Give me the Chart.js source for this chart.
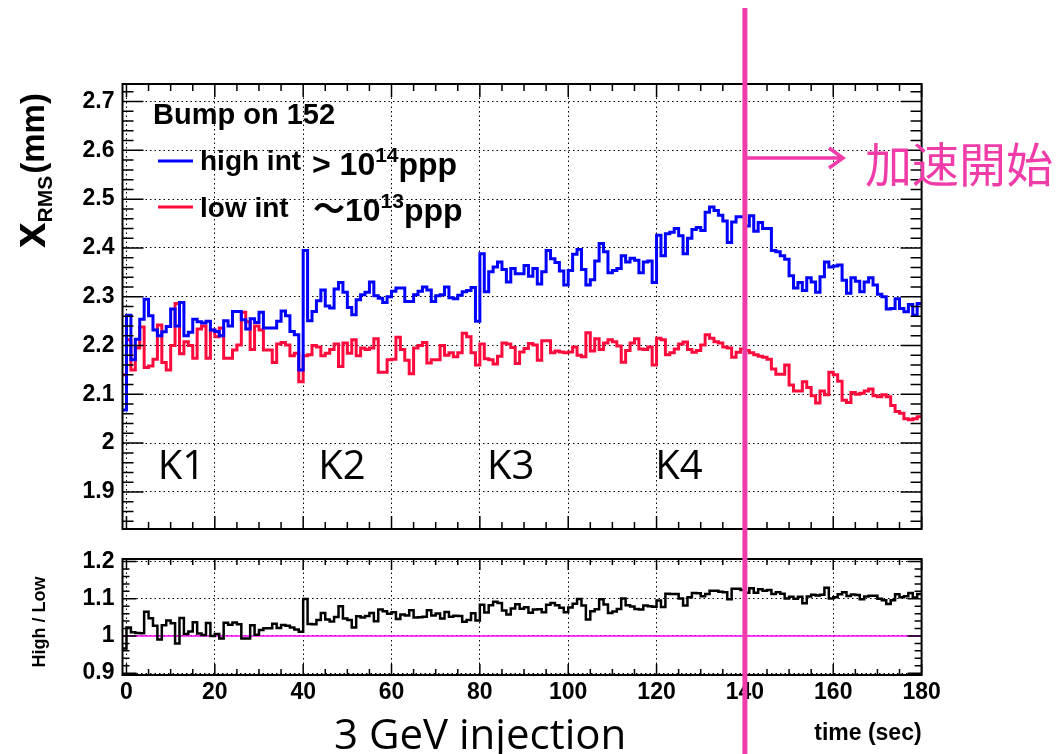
<!DOCTYPE html>
<html>
<head>
<meta charset="utf-8">
<title>x RMS vs time, Bump on 152</title>
<script src="https://cdn.jsdelivr.net/npm/chart.js"></script>
<style>
  body { margin: 0; background: #fff; }
  #wrap { position: relative; width: 1060px; height: 754px; overflow: hidden; background: #fff; }
  #top { position: absolute; left: 0; top: 0; }
  #bottom { position: absolute; left: 0; top: 545px; }
</style>
</head>
<body>
<div id="wrap">
  <canvas id="top" width="1060" height="545" style="width:1060px;height:545px"></canvas>
  <canvas id="bottom" width="1060" height="209" style="width:1060px;height:209px"></canvas>
</div>
<script>
// 1 s bins, first bin starts at t = -1 s
const BIN_START = -1;

const highInt = [
  2.068, 2.262, 2.171, 2.213, 2.254, 2.295, 2.261, 2.232, 2.220, 2.228,
  2.239, 2.275, 2.240, 2.288, 2.220, 2.227, 2.254, 2.249, 2.246, 2.250,
  2.232, 2.229, 2.220, 2.251, 2.240, 2.270, 2.270, 2.253, 2.234, 2.255,
  2.247, 2.268, 2.236, 2.236, 2.236, 2.250, 2.271, 2.261, 2.229, 2.222,
  2.150, 2.395, 2.251, 2.270, 2.292, 2.314, 2.281, 2.277, 2.316, 2.329,
  2.309, 2.278, 2.263, 2.294, 2.304, 2.309, 2.330, 2.302, 2.297, 2.288,
  2.300, 2.311, 2.318, 2.318, 2.290, 2.290, 2.304, 2.311, 2.320, 2.314,
  2.290, 2.302, 2.304, 2.320, 2.298, 2.296, 2.303, 2.310, 2.313, 2.319,
  2.250, 2.388, 2.310, 2.351, 2.361, 2.371, 2.356, 2.330, 2.358, 2.347,
  2.347, 2.364, 2.342, 2.358, 2.326, 2.351, 2.395, 2.378, 2.370, 2.353,
  2.324, 2.354, 2.387, 2.397, 2.356, 2.324, 2.335, 2.373, 2.409, 2.392,
  2.349, 2.354, 2.358, 2.384, 2.371, 2.379, 2.375, 2.349, 2.371, 2.373,
  2.329, 2.426, 2.384, 2.429, 2.432, 2.440, 2.425, 2.388, 2.420, 2.438,
  2.442, 2.436, 2.473, 2.484, 2.477, 2.467, 2.455, 2.411, 2.453, 2.464,
  2.464, 2.445, 2.466, 2.434, 2.452, 2.440, 2.440, 2.395, 2.392, 2.384,
  2.377, 2.343, 2.318, 2.329, 2.313, 2.339, 2.330, 2.309, 2.341, 2.371,
  2.361, 2.363, 2.365, 2.334, 2.307, 2.339, 2.332, 2.310, 2.330, 2.339,
  2.324, 2.305, 2.300, 2.275, 2.276, 2.296, 2.276, 2.269, 2.284, 2.262,
  2.286
];

const lowInt = [
  2.140, 2.212, 2.150, 2.195, 2.238, 2.155, 2.158, 2.172, 2.242, 2.165,
  2.150, 2.200, 2.286, 2.183, 2.208, 2.200, 2.174, 2.234, 2.240, 2.174,
  2.232, 2.218, 2.236, 2.174, 2.174, 2.191, 2.201, 2.268, 2.249, 2.192,
  2.240, 2.232, 2.191, 2.191, 2.165, 2.203, 2.206, 2.201, 2.179, 2.184,
  2.126, 2.179, 2.181, 2.200, 2.197, 2.179, 2.184, 2.192, 2.203, 2.157,
  2.205, 2.184, 2.212, 2.179, 2.195, 2.192, 2.195, 2.214, 2.145, 2.145,
  2.171, 2.172, 2.217, 2.192, 2.170, 2.142, 2.195, 2.200, 2.206, 2.164,
  2.171, 2.171, 2.200, 2.180, 2.185, 2.177, 2.185, 2.225, 2.218, 2.185,
  2.160, 2.203, 2.173, 2.171, 2.162, 2.178, 2.205, 2.203, 2.196, 2.163,
  2.187, 2.194, 2.204, 2.201, 2.170, 2.210, 2.210, 2.185, 2.189, 2.187,
  2.185, 2.187, 2.197, 2.180, 2.177, 2.226, 2.189, 2.214, 2.192, 2.205,
  2.212, 2.208, 2.199, 2.166, 2.190, 2.205, 2.214, 2.193, 2.192, 2.197,
  2.160, 2.215, 2.212, 2.181, 2.185, 2.193, 2.203, 2.207, 2.192, 2.186,
  2.190, 2.201, 2.222, 2.215, 2.208, 2.205, 2.197, 2.195, 2.176, 2.186,
  2.193, 2.190, 2.185, 2.181, 2.178, 2.176, 2.172, 2.152, 2.141, 2.141,
  2.160, 2.119, 2.107, 2.107, 2.126, 2.114, 2.097, 2.082, 2.107, 2.099,
  2.145, 2.140, 2.127, 2.088, 2.083, 2.104, 2.100, 2.102, 2.107, 2.111,
  2.097, 2.095, 2.099, 2.095, 2.077, 2.065, 2.061, 2.050, 2.048, 2.050,
  2.054
];

const timeTicks = [0, 20, 40, 60, 80, 100, 120, 140, 160, 180];
const rmsTicks = [1.9, 2, 2.1, 2.2, 2.3, 2.4, 2.5, 2.6, 2.7];
const ratioTicks = [0.9, 1, 1.1, 1.2];

const kickerLabels = ['K1', 'K2', 'K3', 'K4'];
const kickerAt = [7.1, 43.4, 81.6, 119.7];

const accelStart = 140;   // sec
const unity = 1;

// ratio panel: high / low
const highOverLow = highInt.map((h, i) => h / lowInt[i]);

const SANS = "'Liberation Sans', Arial, Helvetica, sans-serif";
const CJK = "'Noto Sans CJK JP', 'Noto Sans CJK SC', sans-serif";
const SLIDE = "'Open Sans', 'Noto Sans', sans-serif";
const BLUE = '#0000ff';
const RED = '#ff0a3c';
const PINK = '#f03ca8';

Chart.defaults.font.family = SANS;
Chart.defaults.color = '#000';

// histogram outline: one point per bin edge, value held until next edge
function histPoints(vals) {
  const pts = vals.map((v, i) => ({ x: BIN_START + i, y: v }));
  pts.push({ x: BIN_START + vals.length, y: vals[vals.length - 1] });
  return pts;
}

function histDataset(label, vals, color, width) {
  return {
    label: label,
    data: histPoints(vals),
    borderColor: color,
    borderWidth: width,
    stepped: true,
    pointRadius: 0,
    fill: false,
    borderJoinStyle: 'miter',
    borderCapStyle: 'butt'
  };
}

const dottedGrid = { color: '#000', lineWidth: 1, drawTicks: false };
const dottedBorder = { display: false, dash: [1.5, 3] };

function fixTicks(values) {
  return scale => { scale.ticks = values.map(v => ({ value: v })); };
}

// fixed axis width, and keep tick labels from pushing the plot area in
function fixYWidth(scale) {
  scale.width = 122.5;
  scale.paddingTop = 0;
  scale.paddingBottom = 0;
}

// ROOT style frame with inward ticks on all four sides
function frameTicks(xMaj, xMin, yMaj, yMin, yStep) {
  return {
    id: 'frameTicks',
    afterDatasetsDraw(chart) {
      const { ctx, chartArea: a, scales: { x, y } } = chart;
      ctx.save();
      ctx.strokeStyle = '#000';
      ctx.lineWidth = 1.5;
      ctx.beginPath();
      for (let k = Math.ceil(x.min / 5); k * 5 <= x.max + 1e-9; k++) {
        const px = x.getPixelForValue(k * 5);
        const len = k % 4 === 0 ? xMaj : xMin;
        ctx.moveTo(px, a.bottom); ctx.lineTo(px, a.bottom - len);
        ctx.moveTo(px, a.top); ctx.lineTo(px, a.top + len);
      }
      for (let k = Math.ceil(y.min / yStep - 1e-9); k * yStep <= y.max + 1e-9; k++) {
        const py = y.getPixelForValue(k * yStep);
        const len = k % 5 === 0 ? yMaj : yMin;
        ctx.moveTo(a.left, py); ctx.lineTo(a.left + len, py);
        ctx.moveTo(a.right, py); ctx.lineTo(a.right - len, py);
      }
      ctx.stroke();
      ctx.lineWidth = 2;
      ctx.strokeRect(a.left, a.top, a.right - a.left, a.bottom - a.top);
      ctx.restore();
    }
  };
}

function pinkLine(chart, y0, y1) {
  const ctx = chart.ctx;
  const px = chart.scales.x.getPixelForValue(accelStart);
  ctx.save();
  ctx.strokeStyle = PINK;
  ctx.lineWidth = 5;
  ctx.beginPath();
  ctx.moveTo(px, y0);
  ctx.lineTo(px, y1);
  ctx.stroke();
  ctx.restore();
  return px;
}

const topDecor = {
  id: 'topDecor',
  afterDraw(chart) {
    const { ctx, scales: { x, y } } = chart;
    const ds = chart.data.datasets;
    ctx.save();
    ctx.fillStyle = '#000';
    ctx.textAlign = 'left';
    ctx.textBaseline = 'alphabetic';

    // legend block
    ctx.font = 'bold 29px ' + SANS;
    ctx.fillText('Bump on 152', 153, 124);
    ctx.lineWidth = 3;
    ctx.strokeStyle = ds[0].borderColor;
    ctx.beginPath(); ctx.moveTo(158, 161); ctx.lineTo(193, 161); ctx.stroke();
    ctx.strokeStyle = ds[1].borderColor;
    ctx.beginPath(); ctx.moveTo(158, 207); ctx.lineTo(193, 207); ctx.stroke();
    ctx.font = 'bold 28px ' + SANS;
    ctx.fillText(ds[0].label, 200, 170);
    ctx.fillText(ds[1].label, 200, 217);

    // intensity notes
    let cx = 312;
    ctx.font = 'bold 32px ' + SANS;
    ctx.fillText('> 10', cx, 175);
    cx += ctx.measureText('> 10').width;
    ctx.font = 'bold 21px ' + SANS;
    ctx.fillText('14', cx, 162);
    cx += ctx.measureText('14').width;
    ctx.font = 'bold 32px ' + SANS;
    ctx.fillText('ppp', cx, 175);

    cx = 313;
    ctx.font = 'bold 32px ' + CJK;
    ctx.fillText('\u301c', cx, 220);
    cx += ctx.measureText('\u301c').width;
    ctx.font = 'bold 32px ' + SANS;
    ctx.fillText('10', cx, 221);
    cx += ctx.measureText('10').width;
    ctx.font = 'bold 21px ' + SANS;
    ctx.fillText('13', cx, 208);
    cx += ctx.measureText('13').width;
    ctx.font = 'bold 32px ' + SANS;
    ctx.fillText('ppp', cx, 221);

    // kicker labels
    ctx.font = '40px ' + SLIDE;
    kickerLabels.forEach((k, i) => {
      ctx.fillText(k, x.getPixelForValue(kickerAt[i]), y.getPixelForValue(1.926));
    });

    // y axis title x_RMS(mm)
    ctx.save();
    ctx.rotate(-Math.PI / 2);
    let u = -248;
    ctx.font = 'bold 46px ' + SANS;
    ctx.fillText('x', u, 45);
    u += ctx.measureText('x').width;
    ctx.font = 'bold 21px ' + SANS;
    ctx.fillText('RMS', u, 52);
    u += ctx.measureText('RMS').width + 2;
    ctx.font = 'bold 33px ' + SANS;
    ctx.fillText('(mm)', u, 44);
    ctx.restore();
    ctx.restore();

    // start of acceleration marker
    const px = pinkLine(chart, 8, chart.height);
    ctx.save();
    ctx.strokeStyle = PINK;
    ctx.lineWidth = 3.5;
    ctx.beginPath();
    ctx.moveTo(px + 2, 158); ctx.lineTo(843, 158);
    ctx.moveTo(829, 148); ctx.lineTo(843, 158); ctx.lineTo(829, 168);
    ctx.stroke();
    ctx.fillStyle = PINK;
    ctx.font = '47px ' + CJK;
    ctx.textBaseline = 'middle';
    ctx.fillText('加速開始', 865, 164);
    ctx.restore();
  }
};

const bottomDecor = {
  id: 'bottomDecor',
  beforeDatasetsDraw(chart) {
    const { ctx, chartArea: a, scales: { y } } = chart;
    const py = y.getPixelForValue(unity);
    ctx.save();
    ctx.strokeStyle = '#ff00ff';
    ctx.lineWidth = 1.5;
    ctx.beginPath();
    ctx.moveTo(a.left, py); ctx.lineTo(a.right, py);
    ctx.stroke();
    ctx.restore();
  },
  afterDraw(chart) {
    const ctx = chart.ctx;
    ctx.save();
    ctx.fillStyle = '#000';
    ctx.textBaseline = 'alphabetic';
    ctx.save();
    ctx.rotate(-Math.PI / 2);
    ctx.textAlign = 'center';
    ctx.font = 'bold 18px ' + SANS;
    ctx.fillText('High / Low', -77, 45);
    ctx.restore();
    ctx.textAlign = 'left';
    ctx.font = '42px ' + SLIDE;
    ctx.fillText('3 GeV injection', 334, 204);
    ctx.restore();
    pinkLine(chart, 0, chart.height);
  }
};

const tickFont = { family: SANS, size: 23, weight: 'bold' };
const X_MIN = -0.9;
const X_MAX = 180;

new Chart(document.getElementById('top'), {
  type: 'line',
  data: {
    datasets: [
      histDataset('high int', highInt, BLUE, 3),
      histDataset('low int', lowInt, RED, 3)
    ]
  },
  options: {
    responsive: false,
    animation: false,
    devicePixelRatio: 1,
    layout: { padding: { left: 0, top: 84, right: 138.4, bottom: 16 } },
    plugins: { legend: { display: false }, tooltip: { enabled: false } },
    scales: {
      x: {
        type: 'linear', min: X_MIN, max: X_MAX,
        afterBuildTicks: fixTicks(timeTicks),
        ticks: { display: false },
        grid: dottedGrid, border: dottedBorder,
        afterFit: s => { s.height = 0; }
      },
      y: {
        type: 'linear', min: 1.824, max: 2.736,
        afterBuildTicks: fixTicks(rmsTicks),
        ticks: { font: tickFont, color: '#000', padding: 8, callback: v => String(v) },
        grid: dottedGrid, border: dottedBorder,
        afterFit: fixYWidth
      }
    }
  },
  plugins: [frameTicks(13, 7, 21, 11, 0.02), topDecor]
});

new Chart(document.getElementById('bottom'), {
  type: 'line',
  data: {
    datasets: [histDataset('High / Low', highOverLow, '#000', 2.5)]
  },
  options: {
    responsive: false,
    animation: false,
    devicePixelRatio: 1,
    layout: { padding: { left: 0, top: 14, right: 138.4, bottom: 0 } },
    plugins: { legend: { display: false }, tooltip: { enabled: false } },
    scales: {
      x: {
        type: 'linear', min: X_MIN, max: X_MAX,
        afterBuildTicks: fixTicks(timeTicks),
        ticks: { font: tickFont, color: '#000', padding: 4, maxRotation: 0, autoSkip: false, callback: v => String(v) },
        title: { display: true, text: 'time (sec)', align: 'end', color: '#000',
                 font: { family: SANS, size: 23, weight: 'bold' }, padding: { top: 0, bottom: 7 } },
        grid: dottedGrid, border: dottedBorder,
        afterFit: s => { s.height = 79; }
      },
      y: {
        type: 'linear', min: 0.895, max: 1.207,
        afterBuildTicks: fixTicks(ratioTicks),
        ticks: { font: tickFont, color: '#000', padding: 8, callback: v => String(v) },
        grid: dottedGrid, border: dottedBorder,
        afterFit: fixYWidth
      }
    }
  },
  plugins: [frameTicks(11, 6, 14, 7, 0.02), bottomDecor]
});
</script>
</body>
</html>
